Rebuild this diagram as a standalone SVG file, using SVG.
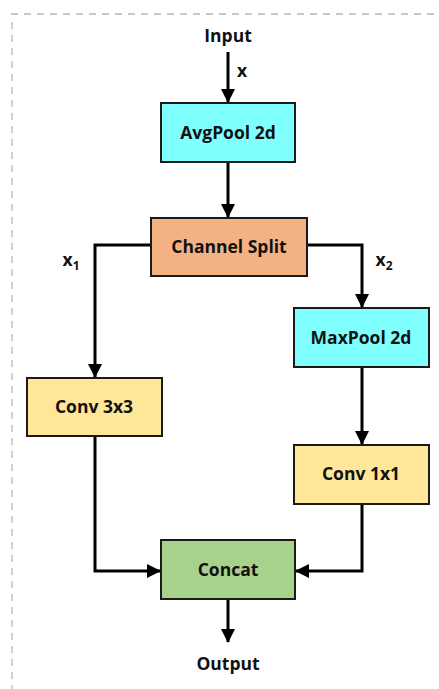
<svg xmlns="http://www.w3.org/2000/svg" width="439" height="689" viewBox="0 0 439 689">
<style>
.box{stroke:#1a1a1a;stroke-width:2}
.lbl{font-family:"Open Sans","Liberation Sans",sans-serif;font-weight:bold;font-size:17.5px;fill:#111;text-anchor:middle}
.con{fill:none;stroke:#000;stroke-width:3}
.frame{fill:none;stroke:#b8b8b8;stroke-width:1.3;stroke-dasharray:7 6}
</style>
<defs>
<marker id="ah" markerUnits="userSpaceOnUse" markerWidth="14" markerHeight="14" viewBox="0 0 14 14" refX="13" refY="7" orient="auto">
<path d="M0,0 L14,7 L0,14 Z" fill="#000"/>
</marker>
</defs>
<rect width="439" height="689" fill="#fff"/>
<line class="frame" x1="11" y1="14" x2="439" y2="14"/>
<line class="frame" x1="12" y1="22" x2="12" y2="689"/>

<g id="connectors">
<line class="con" x1="228" y1="52" x2="228" y2="102" marker-end="url(#ah)"/>
<line class="con" x1="228" y1="162" x2="228" y2="217" marker-end="url(#ah)"/>
<polyline class="con" points="151,245 95,245 95,377" marker-end="url(#ah)"/>
<polyline class="con" points="307,245 362,245 362,307" marker-end="url(#ah)"/>
<line class="con" x1="362" y1="367" x2="362" y2="444" marker-end="url(#ah)"/>
<polyline class="con" points="95,436 95,571 160,571" marker-end="url(#ah)"/>
<polyline class="con" points="362,504 362,571 296,571" marker-end="url(#ah)"/>
<line class="con" x1="228" y1="599" x2="228" y2="642" marker-end="url(#ah)"/>
</g>

<g id="input"><text class="lbl" x="228" y="42">Input</text></g>
<g id="x-label"><text class="lbl" x="242" y="77">x</text></g>
<g id="x1-label"><text class="lbl" x="71" y="266">x<tspan font-size="12" dy="4">1</tspan></text></g>
<g id="x2-label"><text class="lbl" x="384" y="266">x<tspan font-size="12" dy="4">2</tspan></text></g>

<g id="avgpool"><rect class="box" x="161" y="103" width="134" height="59" fill="#80FFFF"/><text class="lbl" x="228" y="139">AvgPool 2d</text></g>
<g id="channelsplit"><rect class="box" x="151" y="218" width="156" height="58" fill="#F4B183"/><text class="lbl" x="229" y="253">Channel Split</text></g>
<g id="maxpool"><rect class="box" x="294" y="308" width="135" height="59" fill="#80FFFF"/><text class="lbl" x="361" y="344">MaxPool 2d</text></g>
<g id="conv3x3"><rect class="box" x="27" y="378" width="135" height="58" fill="#FFE699"/><text class="lbl" x="94" y="413">Conv 3x3</text></g>
<g id="conv1x1"><rect class="box" x="294" y="445" width="135" height="59" fill="#FFE699"/><text class="lbl" x="361" y="480">Conv 1x1</text></g>
<g id="concat"><rect class="box" x="161" y="540" width="134" height="59" fill="#A9D18E"/><text class="lbl" x="228" y="576">Concat</text></g>
<g id="output"><text class="lbl" x="228" y="670">Output</text></g>
</svg>
